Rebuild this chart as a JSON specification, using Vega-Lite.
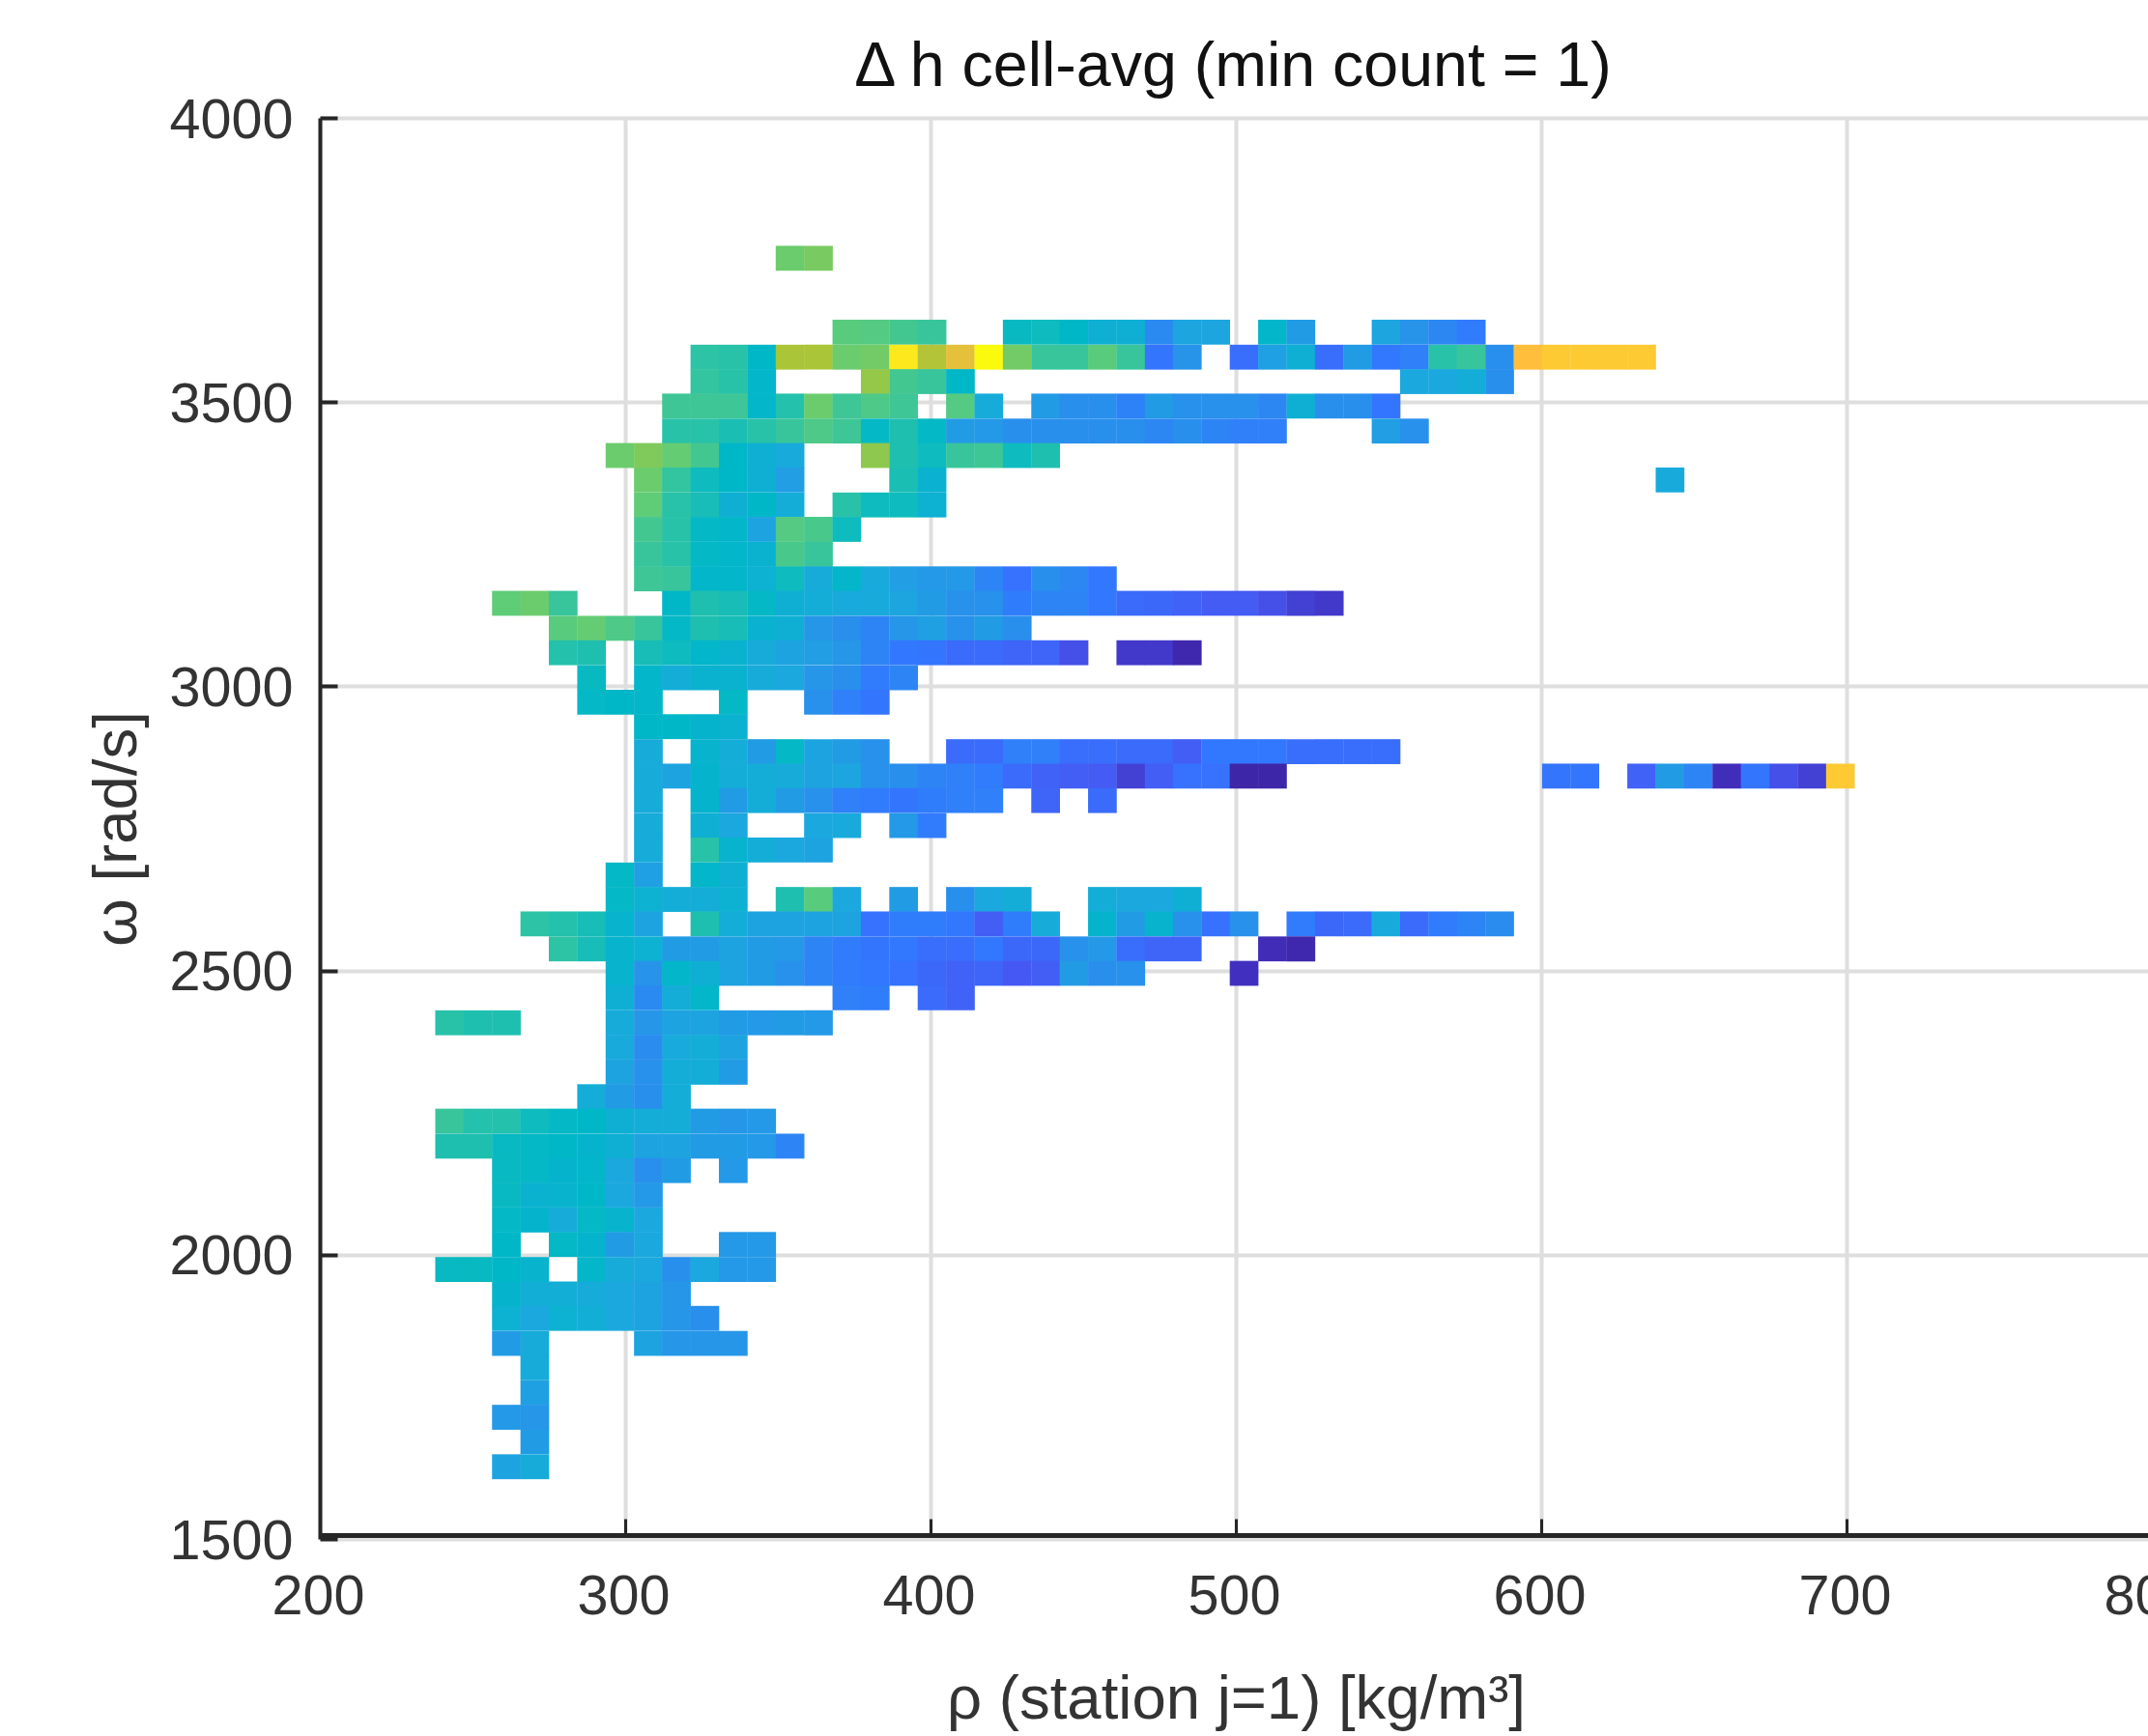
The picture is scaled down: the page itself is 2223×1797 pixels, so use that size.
{"$schema":"https://vega.github.io/schema/vega-lite/v6.json","autosize":{"type":"none"},"padding":{"left":331,"top":122,"right":0,"bottom":204},"width":1896,"height":1471,"background":"white","title":{"text":"Δ h cell-avg (min count = 1)","font":"Liberation Sans","fontSize":64.5,"fontWeight":"normal","color":"#111111","anchor":"middle","frame":"group","offset":-6,"dx":-3},"config":{"view":{"stroke":null},"axis":{"labelFont":"Liberation Sans","titleFont":"Liberation Sans","labelFontSize":57.5,"titleFontSize":63.5,"titleFontWeight":"normal","labelColor":"#333333","titleColor":"#333333","gridColor":"#dedede","gridWidth":4,"domainColor":"#262626","tickColor":"#262626","tickWidth":3,"labelFontWeight":"normal"}},"data":{"values":[
{"rho":354.0,"omega":3753,"dh":0.71},{"rho":363.3,"omega":3753,"dh":0.73},
{"rho":372.6,"omega":3623,"dh":0.68},{"rho":381.9,"omega":3623,"dh":0.67},{"rho":391.2,"omega":3623,"dh":0.64},{"rho":400.5,"omega":3623,"dh":0.62},{"rho":428.4,"omega":3623,"dh":0.52},{"rho":437.7,"omega":3623,"dh":0.53},{"rho":447.0,"omega":3623,"dh":0.5},{"rho":456.3,"omega":3623,"dh":0.44},{"rho":465.6,"omega":3623,"dh":0.44},{"rho":474.9,"omega":3623,"dh":0.27},{"rho":484.1,"omega":3623,"dh":0.38},{"rho":493.4,"omega":3623,"dh":0.38},{"rho":512.0,"omega":3623,"dh":0.49},{"rho":521.3,"omega":3623,"dh":0.34},{"rho":549.2,"omega":3623,"dh":0.38},{"rho":558.5,"omega":3623,"dh":0.31},{"rho":567.8,"omega":3623,"dh":0.26},{"rho":577.1,"omega":3623,"dh":0.21},
{"rho":326.1,"omega":3579,"dh":0.6},{"rho":335.4,"omega":3579,"dh":0.59},{"rho":344.7,"omega":3579,"dh":0.5},{"rho":354.0,"omega":3579,"dh":0.8},{"rho":363.3,"omega":3579,"dh":0.8},{"rho":372.6,"omega":3579,"dh":0.71},{"rho":381.9,"omega":3579,"dh":0.72},{"rho":391.2,"omega":3579,"dh":0.97},{"rho":400.5,"omega":3579,"dh":0.81},{"rho":409.8,"omega":3579,"dh":0.87},{"rho":419.1,"omega":3579,"dh":1.0},{"rho":428.4,"omega":3579,"dh":0.72},{"rho":437.7,"omega":3579,"dh":0.62},{"rho":447.0,"omega":3579,"dh":0.62},{"rho":456.3,"omega":3579,"dh":0.68},{"rho":465.6,"omega":3579,"dh":0.62},{"rho":474.9,"omega":3579,"dh":0.19},{"rho":484.1,"omega":3579,"dh":0.31},{"rho":502.7,"omega":3579,"dh":0.17},{"rho":512.0,"omega":3579,"dh":0.36},{"rho":521.3,"omega":3579,"dh":0.44},{"rho":530.6,"omega":3579,"dh":0.17},{"rho":539.9,"omega":3579,"dh":0.34},{"rho":549.2,"omega":3579,"dh":0.2},{"rho":558.5,"omega":3579,"dh":0.23},{"rho":567.8,"omega":3579,"dh":0.59},{"rho":577.1,"omega":3579,"dh":0.62},{"rho":586.4,"omega":3579,"dh":0.29},{"rho":595.7,"omega":3579,"dh":0.9},{"rho":605.0,"omega":3579,"dh":0.92},{"rho":614.3,"omega":3579,"dh":0.92},{"rho":623.6,"omega":3579,"dh":0.92},{"rho":632.9,"omega":3579,"dh":0.92},
{"rho":326.1,"omega":3536,"dh":0.61},{"rho":335.4,"omega":3536,"dh":0.59},{"rho":344.7,"omega":3536,"dh":0.49},{"rho":381.9,"omega":3536,"dh":0.77},{"rho":391.2,"omega":3536,"dh":0.64},{"rho":400.5,"omega":3536,"dh":0.62},{"rho":409.8,"omega":3536,"dh":0.5},{"rho":558.5,"omega":3536,"dh":0.39},{"rho":567.8,"omega":3536,"dh":0.39},{"rho":577.1,"omega":3536,"dh":0.42},{"rho":586.4,"omega":3536,"dh":0.29},
{"rho":316.8,"omega":3493,"dh":0.63},{"rho":326.1,"omega":3493,"dh":0.63},{"rho":335.4,"omega":3493,"dh":0.63},{"rho":344.7,"omega":3493,"dh":0.49},{"rho":354.0,"omega":3493,"dh":0.58},{"rho":363.3,"omega":3493,"dh":0.71},{"rho":372.6,"omega":3493,"dh":0.63},{"rho":381.9,"omega":3493,"dh":0.66},{"rho":391.2,"omega":3493,"dh":0.63},{"rho":409.8,"omega":3493,"dh":0.67},{"rho":419.1,"omega":3493,"dh":0.41},{"rho":437.7,"omega":3493,"dh":0.34},{"rho":447.0,"omega":3493,"dh":0.29},{"rho":456.3,"omega":3493,"dh":0.29},{"rho":465.6,"omega":3493,"dh":0.24},{"rho":474.9,"omega":3493,"dh":0.34},{"rho":484.1,"omega":3493,"dh":0.3},{"rho":493.4,"omega":3493,"dh":0.3},{"rho":502.7,"omega":3493,"dh":0.3},{"rho":512.0,"omega":3493,"dh":0.26},{"rho":521.3,"omega":3493,"dh":0.44},{"rho":530.6,"omega":3493,"dh":0.29},{"rho":539.9,"omega":3493,"dh":0.29},{"rho":549.2,"omega":3493,"dh":0.19},
{"rho":316.8,"omega":3449,"dh":0.59},{"rho":326.1,"omega":3449,"dh":0.59},{"rho":335.4,"omega":3449,"dh":0.56},{"rho":344.7,"omega":3449,"dh":0.59},{"rho":354.0,"omega":3449,"dh":0.62},{"rho":363.3,"omega":3449,"dh":0.66},{"rho":372.6,"omega":3449,"dh":0.63},{"rho":381.9,"omega":3449,"dh":0.51},{"rho":391.2,"omega":3449,"dh":0.57},{"rho":400.5,"omega":3449,"dh":0.51},{"rho":409.8,"omega":3449,"dh":0.34},{"rho":419.1,"omega":3449,"dh":0.33},{"rho":428.4,"omega":3449,"dh":0.29},{"rho":437.7,"omega":3449,"dh":0.29},{"rho":447.0,"omega":3449,"dh":0.29},{"rho":456.3,"omega":3449,"dh":0.29},{"rho":465.6,"omega":3449,"dh":0.29},{"rho":474.9,"omega":3449,"dh":0.26},{"rho":484.1,"omega":3449,"dh":0.29},{"rho":493.4,"omega":3449,"dh":0.25},{"rho":502.7,"omega":3449,"dh":0.23},{"rho":512.0,"omega":3449,"dh":0.23},{"rho":549.2,"omega":3449,"dh":0.35},{"rho":558.5,"omega":3449,"dh":0.3},
{"rho":298.3,"omega":3406,"dh":0.71},{"rho":307.6,"omega":3406,"dh":0.74},{"rho":316.8,"omega":3406,"dh":0.7},{"rho":326.1,"omega":3406,"dh":0.64},{"rho":335.4,"omega":3406,"dh":0.5},{"rho":344.7,"omega":3406,"dh":0.44},{"rho":354.0,"omega":3406,"dh":0.4},{"rho":381.9,"omega":3406,"dh":0.76},{"rho":391.2,"omega":3406,"dh":0.57},{"rho":400.5,"omega":3406,"dh":0.53},{"rho":409.8,"omega":3406,"dh":0.62},{"rho":419.1,"omega":3406,"dh":0.63},{"rho":428.4,"omega":3406,"dh":0.53},{"rho":437.7,"omega":3406,"dh":0.57},
{"rho":307.6,"omega":3363,"dh":0.71},{"rho":316.8,"omega":3363,"dh":0.61},{"rho":326.1,"omega":3363,"dh":0.53},{"rho":335.4,"omega":3363,"dh":0.5},{"rho":344.7,"omega":3363,"dh":0.44},{"rho":354.0,"omega":3363,"dh":0.35},{"rho":391.2,"omega":3363,"dh":0.56},{"rho":400.5,"omega":3363,"dh":0.46},{"rho":642.2,"omega":3363,"dh":0.4},
{"rho":307.6,"omega":3319,"dh":0.69},{"rho":316.8,"omega":3319,"dh":0.59},{"rho":326.1,"omega":3319,"dh":0.55},{"rho":335.4,"omega":3319,"dh":0.44},{"rho":344.7,"omega":3319,"dh":0.5},{"rho":354.0,"omega":3319,"dh":0.42},{"rho":372.6,"omega":3319,"dh":0.59},{"rho":381.9,"omega":3319,"dh":0.53},{"rho":391.2,"omega":3319,"dh":0.53},{"rho":400.5,"omega":3319,"dh":0.45},
{"rho":307.6,"omega":3276,"dh":0.64},{"rho":316.8,"omega":3276,"dh":0.59},{"rho":326.1,"omega":3276,"dh":0.51},{"rho":335.4,"omega":3276,"dh":0.49},{"rho":344.7,"omega":3276,"dh":0.37},{"rho":354.0,"omega":3276,"dh":0.67},{"rho":363.3,"omega":3276,"dh":0.65},{"rho":372.6,"omega":3276,"dh":0.53},
{"rho":307.6,"omega":3232,"dh":0.62},{"rho":316.8,"omega":3232,"dh":0.59},{"rho":326.1,"omega":3232,"dh":0.51},{"rho":335.4,"omega":3232,"dh":0.49},{"rho":344.7,"omega":3232,"dh":0.46},{"rho":354.0,"omega":3232,"dh":0.65},{"rho":363.3,"omega":3232,"dh":0.62},
{"rho":307.6,"omega":3189,"dh":0.63},{"rho":316.8,"omega":3189,"dh":0.62},{"rho":326.1,"omega":3189,"dh":0.49},{"rho":335.4,"omega":3189,"dh":0.49},{"rho":344.7,"omega":3189,"dh":0.45},{"rho":354.0,"omega":3189,"dh":0.53},{"rho":363.3,"omega":3189,"dh":0.41},{"rho":372.6,"omega":3189,"dh":0.49},{"rho":381.9,"omega":3189,"dh":0.4},{"rho":391.2,"omega":3189,"dh":0.35},{"rho":400.5,"omega":3189,"dh":0.33},{"rho":409.8,"omega":3189,"dh":0.33},{"rho":419.1,"omega":3189,"dh":0.25},{"rho":428.4,"omega":3189,"dh":0.18},{"rho":437.7,"omega":3189,"dh":0.29},{"rho":447.0,"omega":3189,"dh":0.26},{"rho":456.3,"omega":3189,"dh":0.2},
{"rho":261.1,"omega":3146,"dh":0.69},{"rho":270.4,"omega":3146,"dh":0.71},{"rho":279.7,"omega":3146,"dh":0.62},{"rho":316.8,"omega":3146,"dh":0.5},{"rho":326.1,"omega":3146,"dh":0.57},{"rho":335.4,"omega":3146,"dh":0.55},{"rho":344.7,"omega":3146,"dh":0.51},{"rho":354.0,"omega":3146,"dh":0.44},{"rho":363.3,"omega":3146,"dh":0.42},{"rho":372.6,"omega":3146,"dh":0.4},{"rho":381.9,"omega":3146,"dh":0.4},{"rho":391.2,"omega":3146,"dh":0.38},{"rho":400.5,"omega":3146,"dh":0.34},{"rho":409.8,"omega":3146,"dh":0.3},{"rho":419.1,"omega":3146,"dh":0.3},{"rho":428.4,"omega":3146,"dh":0.22},{"rho":437.7,"omega":3146,"dh":0.25},{"rho":447.0,"omega":3146,"dh":0.25},{"rho":456.3,"omega":3146,"dh":0.2},{"rho":465.6,"omega":3146,"dh":0.16},{"rho":474.9,"omega":3146,"dh":0.15},{"rho":484.1,"omega":3146,"dh":0.13},{"rho":493.4,"omega":3146,"dh":0.11},{"rho":502.7,"omega":3146,"dh":0.11},{"rho":512.0,"omega":3146,"dh":0.09},{"rho":521.3,"omega":3146,"dh":0.07},{"rho":530.6,"omega":3146,"dh":0.06},
{"rho":279.7,"omega":3102,"dh":0.68},{"rho":289.0,"omega":3102,"dh":0.7},{"rho":298.3,"omega":3102,"dh":0.66},{"rho":307.6,"omega":3102,"dh":0.62},{"rho":316.8,"omega":3102,"dh":0.51},{"rho":326.1,"omega":3102,"dh":0.57},{"rho":335.4,"omega":3102,"dh":0.55},{"rho":344.7,"omega":3102,"dh":0.46},{"rho":354.0,"omega":3102,"dh":0.44},{"rho":363.3,"omega":3102,"dh":0.32},{"rho":372.6,"omega":3102,"dh":0.29},{"rho":381.9,"omega":3102,"dh":0.25},{"rho":391.2,"omega":3102,"dh":0.32},{"rho":400.5,"omega":3102,"dh":0.36},{"rho":409.8,"omega":3102,"dh":0.3},{"rho":419.1,"omega":3102,"dh":0.34},{"rho":428.4,"omega":3102,"dh":0.29},
{"rho":279.7,"omega":3059,"dh":0.58},{"rho":289.0,"omega":3059,"dh":0.57},{"rho":307.6,"omega":3059,"dh":0.55},{"rho":316.8,"omega":3059,"dh":0.53},{"rho":326.1,"omega":3059,"dh":0.49},{"rho":335.4,"omega":3059,"dh":0.46},{"rho":344.7,"omega":3059,"dh":0.41},{"rho":354.0,"omega":3059,"dh":0.37},{"rho":363.3,"omega":3059,"dh":0.35},{"rho":372.6,"omega":3059,"dh":0.32},{"rho":381.9,"omega":3059,"dh":0.25},{"rho":391.2,"omega":3059,"dh":0.2},{"rho":400.5,"omega":3059,"dh":0.19},{"rho":409.8,"omega":3059,"dh":0.16},{"rho":419.1,"omega":3059,"dh":0.16},{"rho":428.4,"omega":3059,"dh":0.14},{"rho":437.7,"omega":3059,"dh":0.14},{"rho":447.0,"omega":3059,"dh":0.09},{"rho":465.6,"omega":3059,"dh":0.06},{"rho":474.9,"omega":3059,"dh":0.06},{"rho":484.1,"omega":3059,"dh":0.01},
{"rho":289.0,"omega":3015,"dh":0.52},{"rho":307.6,"omega":3015,"dh":0.49},{"rho":316.8,"omega":3015,"dh":0.42},{"rho":326.1,"omega":3015,"dh":0.46},{"rho":335.4,"omega":3015,"dh":0.46},{"rho":344.7,"omega":3015,"dh":0.41},{"rho":354.0,"omega":3015,"dh":0.39},{"rho":363.3,"omega":3015,"dh":0.32},{"rho":372.6,"omega":3015,"dh":0.29},{"rho":381.9,"omega":3015,"dh":0.21},{"rho":391.2,"omega":3015,"dh":0.25},
{"rho":289.0,"omega":2972,"dh":0.51},{"rho":298.3,"omega":2972,"dh":0.5},{"rho":307.6,"omega":2972,"dh":0.49},{"rho":335.4,"omega":2972,"dh":0.51},{"rho":363.3,"omega":2972,"dh":0.3},{"rho":372.6,"omega":2972,"dh":0.23},{"rho":381.9,"omega":2972,"dh":0.19},
{"rho":307.6,"omega":2929,"dh":0.5},{"rho":316.8,"omega":2929,"dh":0.5},{"rho":326.1,"omega":2929,"dh":0.48},{"rho":335.4,"omega":2929,"dh":0.46},
{"rho":307.6,"omega":2885,"dh":0.41},{"rho":326.1,"omega":2885,"dh":0.47},{"rho":335.4,"omega":2885,"dh":0.42},{"rho":344.7,"omega":2885,"dh":0.34},{"rho":354.0,"omega":2885,"dh":0.51},{"rho":363.3,"omega":2885,"dh":0.37},{"rho":372.6,"omega":2885,"dh":0.34},{"rho":381.9,"omega":2885,"dh":0.3},{"rho":409.8,"omega":2885,"dh":0.16},{"rho":419.1,"omega":2885,"dh":0.16},{"rho":428.4,"omega":2885,"dh":0.23},{"rho":437.7,"omega":2885,"dh":0.23},{"rho":447.0,"omega":2885,"dh":0.17},{"rho":456.3,"omega":2885,"dh":0.17},{"rho":465.6,"omega":2885,"dh":0.16},{"rho":474.9,"omega":2885,"dh":0.16},{"rho":484.1,"omega":2885,"dh":0.12},{"rho":493.4,"omega":2885,"dh":0.2},{"rho":502.7,"omega":2885,"dh":0.2},{"rho":512.0,"omega":2885,"dh":0.2},{"rho":521.3,"omega":2885,"dh":0.17},{"rho":530.6,"omega":2885,"dh":0.17},{"rho":539.9,"omega":2885,"dh":0.17},{"rho":549.2,"omega":2885,"dh":0.17},
{"rho":307.6,"omega":2842,"dh":0.41},{"rho":316.8,"omega":2842,"dh":0.37},{"rho":326.1,"omega":2842,"dh":0.48},{"rho":335.4,"omega":2842,"dh":0.42},{"rho":344.7,"omega":2842,"dh":0.42},{"rho":354.0,"omega":2842,"dh":0.41},{"rho":363.3,"omega":2842,"dh":0.37},{"rho":372.6,"omega":2842,"dh":0.38},{"rho":381.9,"omega":2842,"dh":0.3},{"rho":391.2,"omega":2842,"dh":0.29},{"rho":400.5,"omega":2842,"dh":0.25},{"rho":409.8,"omega":2842,"dh":0.23},{"rho":419.1,"omega":2842,"dh":0.21},{"rho":428.4,"omega":2842,"dh":0.16},{"rho":437.7,"omega":2842,"dh":0.13},{"rho":447.0,"omega":2842,"dh":0.12},{"rho":456.3,"omega":2842,"dh":0.11},{"rho":465.6,"omega":2842,"dh":0.07},{"rho":474.9,"omega":2842,"dh":0.12},{"rho":484.1,"omega":2842,"dh":0.18},{"rho":493.4,"omega":2842,"dh":0.18},{"rho":502.7,"omega":2842,"dh":0.0},{"rho":512.0,"omega":2842,"dh":0.0},{"rho":605.0,"omega":2842,"dh":0.19},{"rho":614.3,"omega":2842,"dh":0.19},{"rho":632.9,"omega":2842,"dh":0.13},{"rho":642.2,"omega":2842,"dh":0.34},{"rho":651.5,"omega":2842,"dh":0.25},{"rho":660.8,"omega":2842,"dh":0.04},{"rho":670.1,"omega":2842,"dh":0.19},{"rho":679.4,"omega":2842,"dh":0.09},{"rho":688.7,"omega":2842,"dh":0.07},{"rho":698.0,"omega":2842,"dh":0.92},
{"rho":307.6,"omega":2799,"dh":0.41},{"rho":326.1,"omega":2799,"dh":0.48},{"rho":335.4,"omega":2799,"dh":0.34},{"rho":344.7,"omega":2799,"dh":0.42},{"rho":354.0,"omega":2799,"dh":0.34},{"rho":363.3,"omega":2799,"dh":0.3},{"rho":372.6,"omega":2799,"dh":0.23},{"rho":381.9,"omega":2799,"dh":0.21},{"rho":391.2,"omega":2799,"dh":0.19},{"rho":400.5,"omega":2799,"dh":0.22},{"rho":409.8,"omega":2799,"dh":0.23},{"rho":419.1,"omega":2799,"dh":0.23},{"rho":437.7,"omega":2799,"dh":0.14},{"rho":456.3,"omega":2799,"dh":0.16},
{"rho":307.6,"omega":2755,"dh":0.41},{"rho":326.1,"omega":2755,"dh":0.44},{"rho":335.4,"omega":2755,"dh":0.39},{"rho":363.3,"omega":2755,"dh":0.39},{"rho":372.6,"omega":2755,"dh":0.4},{"rho":391.2,"omega":2755,"dh":0.33},{"rho":400.5,"omega":2755,"dh":0.21},
{"rho":307.6,"omega":2712,"dh":0.41},{"rho":326.1,"omega":2712,"dh":0.59},{"rho":335.4,"omega":2712,"dh":0.47},{"rho":344.7,"omega":2712,"dh":0.42},{"rho":354.0,"omega":2712,"dh":0.39},{"rho":363.3,"omega":2712,"dh":0.37},
{"rho":298.3,"omega":2668,"dh":0.51},{"rho":307.6,"omega":2668,"dh":0.36},{"rho":326.1,"omega":2668,"dh":0.49},{"rho":335.4,"omega":2668,"dh":0.44},
{"rho":298.3,"omega":2625,"dh":0.51},{"rho":307.6,"omega":2625,"dh":0.45},{"rho":316.8,"omega":2625,"dh":0.42},{"rho":326.1,"omega":2625,"dh":0.42},{"rho":335.4,"omega":2625,"dh":0.45},{"rho":354.0,"omega":2625,"dh":0.57},{"rho":363.3,"omega":2625,"dh":0.68},{"rho":372.6,"omega":2625,"dh":0.39},{"rho":391.2,"omega":2625,"dh":0.34},{"rho":409.8,"omega":2625,"dh":0.29},{"rho":419.1,"omega":2625,"dh":0.39},{"rho":428.4,"omega":2625,"dh":0.42},{"rho":456.3,"omega":2625,"dh":0.42},{"rho":465.6,"omega":2625,"dh":0.39},{"rho":474.9,"omega":2625,"dh":0.39},{"rho":484.1,"omega":2625,"dh":0.44},
{"rho":270.4,"omega":2582,"dh":0.6},{"rho":279.7,"omega":2582,"dh":0.58},{"rho":289.0,"omega":2582,"dh":0.55},{"rho":298.3,"omega":2582,"dh":0.47},{"rho":307.6,"omega":2582,"dh":0.37},{"rho":326.1,"omega":2582,"dh":0.57},{"rho":335.4,"omega":2582,"dh":0.42},{"rho":344.7,"omega":2582,"dh":0.37},{"rho":354.0,"omega":2582,"dh":0.37},{"rho":363.3,"omega":2582,"dh":0.37},{"rho":372.6,"omega":2582,"dh":0.37},{"rho":381.9,"omega":2582,"dh":0.18},{"rho":391.2,"omega":2582,"dh":0.22},{"rho":400.5,"omega":2582,"dh":0.22},{"rho":409.8,"omega":2582,"dh":0.2},{"rho":419.1,"omega":2582,"dh":0.12},{"rho":428.4,"omega":2582,"dh":0.22},{"rho":437.7,"omega":2582,"dh":0.41},{"rho":456.3,"omega":2582,"dh":0.48},{"rho":465.6,"omega":2582,"dh":0.34},{"rho":474.9,"omega":2582,"dh":0.47},{"rho":484.1,"omega":2582,"dh":0.3},{"rho":493.4,"omega":2582,"dh":0.18},{"rho":502.7,"omega":2582,"dh":0.3},{"rho":521.3,"omega":2582,"dh":0.21},{"rho":530.6,"omega":2582,"dh":0.15},{"rho":539.9,"omega":2582,"dh":0.16},{"rho":549.2,"omega":2582,"dh":0.4},{"rho":558.5,"omega":2582,"dh":0.16},{"rho":567.8,"omega":2582,"dh":0.21},{"rho":577.1,"omega":2582,"dh":0.25},{"rho":586.4,"omega":2582,"dh":0.28},
{"rho":279.7,"omega":2538,"dh":0.6},{"rho":289.0,"omega":2538,"dh":0.55},{"rho":298.3,"omega":2538,"dh":0.47},{"rho":307.6,"omega":2538,"dh":0.45},{"rho":316.8,"omega":2538,"dh":0.34},{"rho":326.1,"omega":2538,"dh":0.34},{"rho":335.4,"omega":2538,"dh":0.37},{"rho":344.7,"omega":2538,"dh":0.34},{"rho":354.0,"omega":2538,"dh":0.33},{"rho":363.3,"omega":2538,"dh":0.25},{"rho":372.6,"omega":2538,"dh":0.21},{"rho":381.9,"omega":2538,"dh":0.19},{"rho":391.2,"omega":2538,"dh":0.2},{"rho":400.5,"omega":2538,"dh":0.17},{"rho":409.8,"omega":2538,"dh":0.17},{"rho":419.1,"omega":2538,"dh":0.2},{"rho":428.4,"omega":2538,"dh":0.15},{"rho":437.7,"omega":2538,"dh":0.15},{"rho":447.0,"omega":2538,"dh":0.3},{"rho":456.3,"omega":2538,"dh":0.33},{"rho":465.6,"omega":2538,"dh":0.17},{"rho":474.9,"omega":2538,"dh":0.14},{"rho":484.1,"omega":2538,"dh":0.14},{"rho":512.0,"omega":2538,"dh":0.03},{"rho":521.3,"omega":2538,"dh":0.01},
{"rho":298.3,"omega":2495,"dh":0.47},{"rho":307.6,"omega":2495,"dh":0.31},{"rho":316.8,"omega":2495,"dh":0.49},{"rho":326.1,"omega":2495,"dh":0.44},{"rho":335.4,"omega":2495,"dh":0.37},{"rho":344.7,"omega":2495,"dh":0.34},{"rho":354.0,"omega":2495,"dh":0.3},{"rho":363.3,"omega":2495,"dh":0.25},{"rho":372.6,"omega":2495,"dh":0.21},{"rho":381.9,"omega":2495,"dh":0.2},{"rho":391.2,"omega":2495,"dh":0.18},{"rho":400.5,"omega":2495,"dh":0.15},{"rho":409.8,"omega":2495,"dh":0.13},{"rho":419.1,"omega":2495,"dh":0.14},{"rho":428.4,"omega":2495,"dh":0.1},{"rho":437.7,"omega":2495,"dh":0.12},{"rho":447.0,"omega":2495,"dh":0.34},{"rho":456.3,"omega":2495,"dh":0.29},{"rho":465.6,"omega":2495,"dh":0.3},{"rho":502.7,"omega":2495,"dh":0.05},
{"rho":298.3,"omega":2452,"dh":0.44},{"rho":307.6,"omega":2452,"dh":0.27},{"rho":316.8,"omega":2452,"dh":0.42},{"rho":326.1,"omega":2452,"dh":0.49},{"rho":372.6,"omega":2452,"dh":0.23},{"rho":381.9,"omega":2452,"dh":0.22},{"rho":400.5,"omega":2452,"dh":0.16},{"rho":409.8,"omega":2452,"dh":0.13},
{"rho":242.5,"omega":2408,"dh":0.59},{"rho":251.8,"omega":2408,"dh":0.57},{"rho":261.1,"omega":2408,"dh":0.57},{"rho":298.3,"omega":2408,"dh":0.41},{"rho":307.6,"omega":2408,"dh":0.32},{"rho":316.8,"omega":2408,"dh":0.37},{"rho":326.1,"omega":2408,"dh":0.37},{"rho":335.4,"omega":2408,"dh":0.34},{"rho":344.7,"omega":2408,"dh":0.33},{"rho":354.0,"omega":2408,"dh":0.34},{"rho":363.3,"omega":2408,"dh":0.33},
{"rho":298.3,"omega":2365,"dh":0.4},{"rho":307.6,"omega":2365,"dh":0.28},{"rho":316.8,"omega":2365,"dh":0.4},{"rho":326.1,"omega":2365,"dh":0.42},{"rho":335.4,"omega":2365,"dh":0.37},
{"rho":298.3,"omega":2321,"dh":0.37},{"rho":307.6,"omega":2321,"dh":0.3},{"rho":316.8,"omega":2321,"dh":0.42},{"rho":326.1,"omega":2321,"dh":0.42},{"rho":335.4,"omega":2321,"dh":0.34},
{"rho":289.0,"omega":2278,"dh":0.42},{"rho":298.3,"omega":2278,"dh":0.34},{"rho":307.6,"omega":2278,"dh":0.29},{"rho":316.8,"omega":2278,"dh":0.42},
{"rho":242.5,"omega":2235,"dh":0.62},{"rho":251.8,"omega":2235,"dh":0.58},{"rho":261.1,"omega":2235,"dh":0.58},{"rho":270.4,"omega":2235,"dh":0.53},{"rho":279.7,"omega":2235,"dh":0.51},{"rho":289.0,"omega":2235,"dh":0.5},{"rho":298.3,"omega":2235,"dh":0.44},{"rho":307.6,"omega":2235,"dh":0.42},{"rho":316.8,"omega":2235,"dh":0.42},{"rho":326.1,"omega":2235,"dh":0.34},{"rho":335.4,"omega":2235,"dh":0.32},{"rho":344.7,"omega":2235,"dh":0.33},
{"rho":242.5,"omega":2191,"dh":0.57},{"rho":251.8,"omega":2191,"dh":0.57},{"rho":261.1,"omega":2191,"dh":0.52},{"rho":270.4,"omega":2191,"dh":0.51},{"rho":279.7,"omega":2191,"dh":0.5},{"rho":289.0,"omega":2191,"dh":0.48},{"rho":298.3,"omega":2191,"dh":0.44},{"rho":307.6,"omega":2191,"dh":0.37},{"rho":316.8,"omega":2191,"dh":0.37},{"rho":326.1,"omega":2191,"dh":0.34},{"rho":335.4,"omega":2191,"dh":0.34},{"rho":344.7,"omega":2191,"dh":0.33},{"rho":354.0,"omega":2191,"dh":0.25},
{"rho":261.1,"omega":2148,"dh":0.52},{"rho":270.4,"omega":2148,"dh":0.51},{"rho":279.7,"omega":2148,"dh":0.48},{"rho":289.0,"omega":2148,"dh":0.49},{"rho":298.3,"omega":2148,"dh":0.39},{"rho":307.6,"omega":2148,"dh":0.29},{"rho":316.8,"omega":2148,"dh":0.34},{"rho":335.4,"omega":2148,"dh":0.33},
{"rho":261.1,"omega":2105,"dh":0.52},{"rho":270.4,"omega":2105,"dh":0.46},{"rho":279.7,"omega":2105,"dh":0.47},{"rho":289.0,"omega":2105,"dh":0.5},{"rho":298.3,"omega":2105,"dh":0.39},{"rho":307.6,"omega":2105,"dh":0.33},
{"rho":261.1,"omega":2061,"dh":0.51},{"rho":270.4,"omega":2061,"dh":0.48},{"rho":279.7,"omega":2061,"dh":0.41},{"rho":289.0,"omega":2061,"dh":0.51},{"rho":298.3,"omega":2061,"dh":0.47},{"rho":307.6,"omega":2061,"dh":0.39},
{"rho":261.1,"omega":2018,"dh":0.5},{"rho":279.7,"omega":2018,"dh":0.51},{"rho":289.0,"omega":2018,"dh":0.48},{"rho":298.3,"omega":2018,"dh":0.34},{"rho":307.6,"omega":2018,"dh":0.39},{"rho":335.4,"omega":2018,"dh":0.33},{"rho":344.7,"omega":2018,"dh":0.33},
{"rho":242.5,"omega":1974,"dh":0.52},{"rho":251.8,"omega":1974,"dh":0.52},{"rho":261.1,"omega":1974,"dh":0.5},{"rho":270.4,"omega":1974,"dh":0.47},{"rho":289.0,"omega":1974,"dh":0.49},{"rho":298.3,"omega":1974,"dh":0.41},{"rho":307.6,"omega":1974,"dh":0.39},{"rho":316.8,"omega":1974,"dh":0.29},{"rho":326.1,"omega":1974,"dh":0.39},{"rho":335.4,"omega":1974,"dh":0.33},{"rho":344.7,"omega":1974,"dh":0.33},
{"rho":261.1,"omega":1931,"dh":0.48},{"rho":270.4,"omega":1931,"dh":0.43},{"rho":279.7,"omega":1931,"dh":0.43},{"rho":289.0,"omega":1931,"dh":0.41},{"rho":298.3,"omega":1931,"dh":0.39},{"rho":307.6,"omega":1931,"dh":0.37},{"rho":316.8,"omega":1931,"dh":0.32},
{"rho":261.1,"omega":1888,"dh":0.45},{"rho":270.4,"omega":1888,"dh":0.39},{"rho":279.7,"omega":1888,"dh":0.45},{"rho":289.0,"omega":1888,"dh":0.43},{"rho":298.3,"omega":1888,"dh":0.39},{"rho":307.6,"omega":1888,"dh":0.37},{"rho":316.8,"omega":1888,"dh":0.32},{"rho":326.1,"omega":1888,"dh":0.29},
{"rho":261.1,"omega":1844,"dh":0.34},{"rho":270.4,"omega":1844,"dh":0.41},{"rho":307.6,"omega":1844,"dh":0.37},{"rho":316.8,"omega":1844,"dh":0.32},{"rho":326.1,"omega":1844,"dh":0.32},{"rho":335.4,"omega":1844,"dh":0.32},
{"rho":270.4,"omega":1801,"dh":0.41},
{"rho":270.4,"omega":1757,"dh":0.36},
{"rho":261.1,"omega":1714,"dh":0.33},{"rho":270.4,"omega":1714,"dh":0.32},
{"rho":270.4,"omega":1671,"dh":0.34},
{"rho":261.1,"omega":1627,"dh":0.37},{"rho":270.4,"omega":1627,"dh":0.41}
]},"mark":{"type":"rect","width":29.7,"height":25.8},"encoding":{"x":{"field":"rho","type":"quantitative","scale":{"domain":[200,800],"nice":false,"zero":false},"axis":{"values":[200,300,400,500,600,700,800],"title":"ρ (station j=1) [kg/m³]","grid":true,"tickSize":-17,"domainWidth":5,"offset":-4,"labelPadding":53,"labelOffset":-2,"titlePadding":47,"labelFlush":false,"labelOverlap":false,"format":"d"}},"y":{"field":"omega","type":"quantitative","scale":{"domain":[1500,4000],"nice":false,"zero":false},"axis":{"values":[1500,2000,2500,3000,3500,4000],"title":"ω [rad/s]","grid":true,"tickSize":-18,"tickWidth":4,"domainWidth":4,"labelPadding":46,"labelOffset":3,"titlePadding":22,"labelFlush":false,"labelOverlap":false,"format":"d"}},"color":{"field":"dh","type":"quantitative","legend":null,"scale":{"domain":[0,0.05,0.1,0.2,0.3,0.4,0.5,0.6,0.7,0.8,0.9,1],"range":["#3e26a8","#4130c0","#4658f3","#3278ff","#2891eb","#19aadc","#00b7c8","#2dc3a5","#64cd73","#aac537","#ffbe3c","#fafa0f"],"interpolate":"rgb"}}}}
